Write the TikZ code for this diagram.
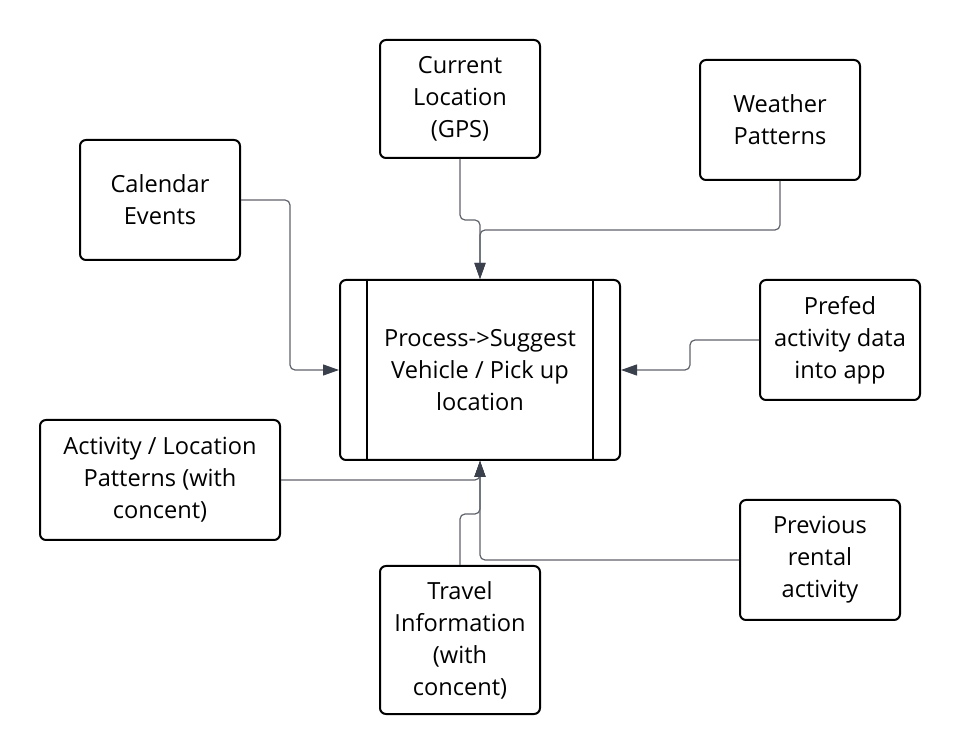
\documentclass[tikz,border=0pt]{standalone}
\usepackage{fontspec}
\setmainfont{Open Sans}
\usetikzlibrary{arrows.meta,positioning}
\definecolor{linkgray}{RGB}{95,99,108}
\definecolor{tipgray}{RGB}{58,64,76}

\begin{document}
\begin{tikzpicture}[x=0.5pt,y=-0.5pt,
    box/.style={draw=black,line width=1pt,rounded corners=3pt,align=center,
      inner sep=0pt,font=\fontsize{11.8}{16}\selectfont},
    link/.style={draw=linkgray,line width=0.6pt,rounded corners=2.5pt,
      -{Triangle[length=8pt,width=5.5pt,color=tipgray]}}]
  \useasboundingbox (0,0) rectangle (960,754);

  % sources
  \node[box,minimum width=80pt,minimum height=59pt] (cur) at (460,99) {Current\\Location\\(GPS)};
  \node[box,minimum width=80pt,minimum height=60pt] (wea) at (780,120) {Weather\\Patterns};
  \node[box,minimum width=80pt,minimum height=60pt] (cal) at (160,200) {Calendar\\Events};
  \node[box,minimum width=80pt,minimum height=60pt] (pre) at (840,340) {Prefed\\activity data\\into app};
  \node[box,minimum width=120pt,minimum height=60pt] (act) at (160,480) {Activity / Location\\Patterns (with\\concent)};
  \node[box,minimum width=80pt,minimum height=74pt] (tra) at (460,640) {Travel\\Information\\(with\\concent)};
  \node[box,minimum width=80pt,minimum height=60pt] (prv) at (820,560) {Previous\\rental\\activity};

  % process
  \node[box,minimum width=140pt,minimum height=90pt] (proc) at (480,370) {Process->Suggest\\Vehicle / Pick up\\location};
  \draw[line width=1pt] ([xshift=14pt]proc.north west) -- ([xshift=14pt]proc.south west);
  \draw[line width=1pt] ([xshift=-14pt]proc.north east) -- ([xshift=-14pt]proc.south east);

  % connectors
  \draw[link] (cur.south) -- (460,220) -| (proc.north);
  \draw[link] (wea.south) |- (480,230) -- (proc.north);
  \draw[link] (cal.east) -- (290,200) |- (proc.west);
  \draw[link] (pre.west) -- (690,340) |- (proc.east);
  \draw[link] (act.east) -| (proc.south);
  \draw[link] (tra.north) -- (460,514) -| (proc.south);
  \draw[link] (prv.west) -| (proc.south);
\end{tikzpicture}
\end{document}
